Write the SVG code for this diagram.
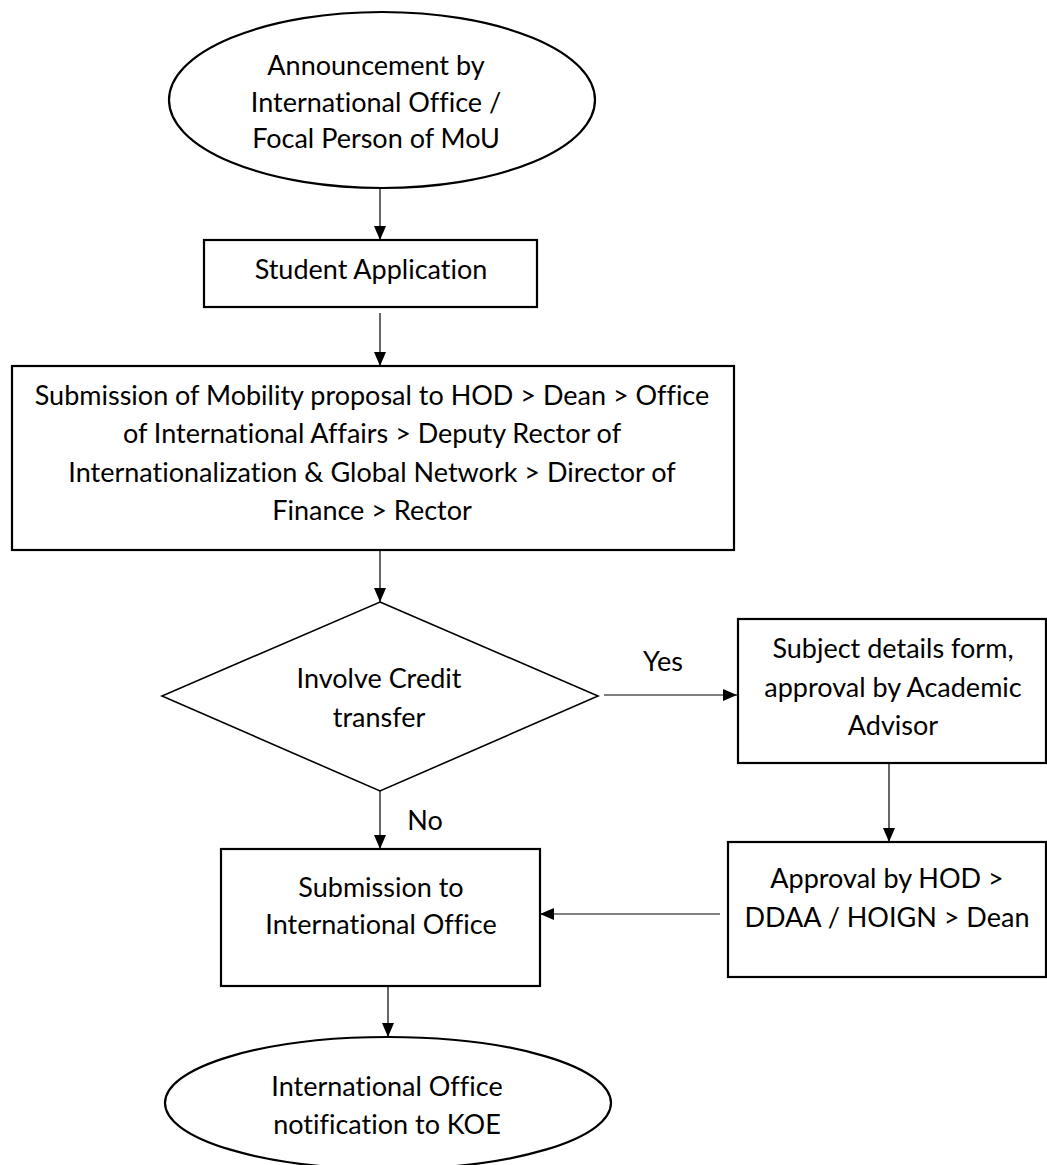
<svg xmlns="http://www.w3.org/2000/svg" width="1047" height="1165" viewBox="0 0 1047 1165">
<style>
.shape{fill:#fff;stroke:#000;stroke-width:2.2}
.dia{fill:#fff;stroke:#000;stroke-width:1.6}
.conn{fill:none;stroke:#000;stroke-width:1.2}
text{font-family:Lato,"Liberation Sans",sans-serif;font-size:27px;fill:#000;text-anchor:middle;font-variant-ligatures:none;font-feature-settings:"liga" 0,"clig" 0}
</style>
<defs>
<marker id="arr" markerUnits="userSpaceOnUse" markerWidth="14" markerHeight="12" refX="14" refY="6" orient="auto">
<path d="M0,0 L14,6 L0,12 Z" fill="#000"/>
</marker>
</defs>
<rect width="1047" height="1165" fill="#fff"/>
<g id="connectors">
<line class="conn" x1="380" y1="188" x2="380" y2="240" marker-end="url(#arr)"/>
<line class="conn" x1="380" y1="313" x2="380" y2="366" marker-end="url(#arr)"/>
<line class="conn" x1="380" y1="550" x2="380" y2="602" marker-end="url(#arr)"/>
<line class="conn" x1="604" y1="695" x2="737" y2="695" marker-end="url(#arr)"/>
<line class="conn" x1="889" y1="763" x2="889" y2="842" marker-end="url(#arr)"/>
<line class="conn" x1="720" y1="914" x2="540" y2="914" marker-end="url(#arr)"/>
<line class="conn" x1="380" y1="791" x2="380" y2="849" marker-end="url(#arr)"/>
<line class="conn" x1="388" y1="986" x2="388" y2="1037" marker-end="url(#arr)"/>
<text x="663" y="671">Yes</text>
<text x="425" y="830">No</text>
</g>
<g id="start">
<ellipse class="shape" cx="382" cy="100" rx="213" ry="88"/>
<text x="376" y="75">Announcement by</text>
<text x="376" y="111.5">International Office /</text>
<text x="376" y="148">Focal Person of MoU</text>
</g>
<g id="student-application">
<rect class="shape" x="204" y="240" width="333" height="67"/>
<text x="371" y="279">Student Application</text>
</g>
<g id="mobility-proposal">
<rect class="shape" x="12" y="366" width="722" height="184"/>
<text x="372" y="405">Submission of Mobility proposal to HOD &gt; Dean &gt; Office</text>
<text x="372" y="443">of International Affairs &gt; Deputy Rector of</text>
<text x="372" y="482">Internationalization &amp; Global Network &gt; Director of</text>
<text x="372" y="520">Finance &gt; Rector</text>
</g>
<g id="credit-decision">
<polygon class="dia" points="380,602 598,696 380,791 162,696"/>
<text x="379" y="688">Involve Credit</text>
<text x="379" y="727">transfer</text>
</g>
<g id="subject-details">
<rect class="shape" x="738" y="619" width="308" height="144"/>
<text x="893" y="658">Subject details form,</text>
<text x="893" y="697">approval by Academic</text>
<text x="893" y="735">Advisor</text>
</g>
<g id="approval">
<rect class="shape" x="728" y="842" width="318" height="135"/>
<text x="887" y="888">Approval by HOD &gt;</text>
<text x="887" y="927">DDAA / HOIGN &gt; Dean</text>
</g>
<g id="submission-io">
<rect class="shape" x="221" y="849" width="319" height="137"/>
<text x="381" y="897">Submission to</text>
<text x="381" y="934">International Office</text>
</g>
<g id="end">
<ellipse class="shape" cx="388" cy="1103" rx="223" ry="66"/>
<text x="387" y="1096">International Office</text>
<text x="387" y="1134">notification to KOE</text>
</g>
</svg>
